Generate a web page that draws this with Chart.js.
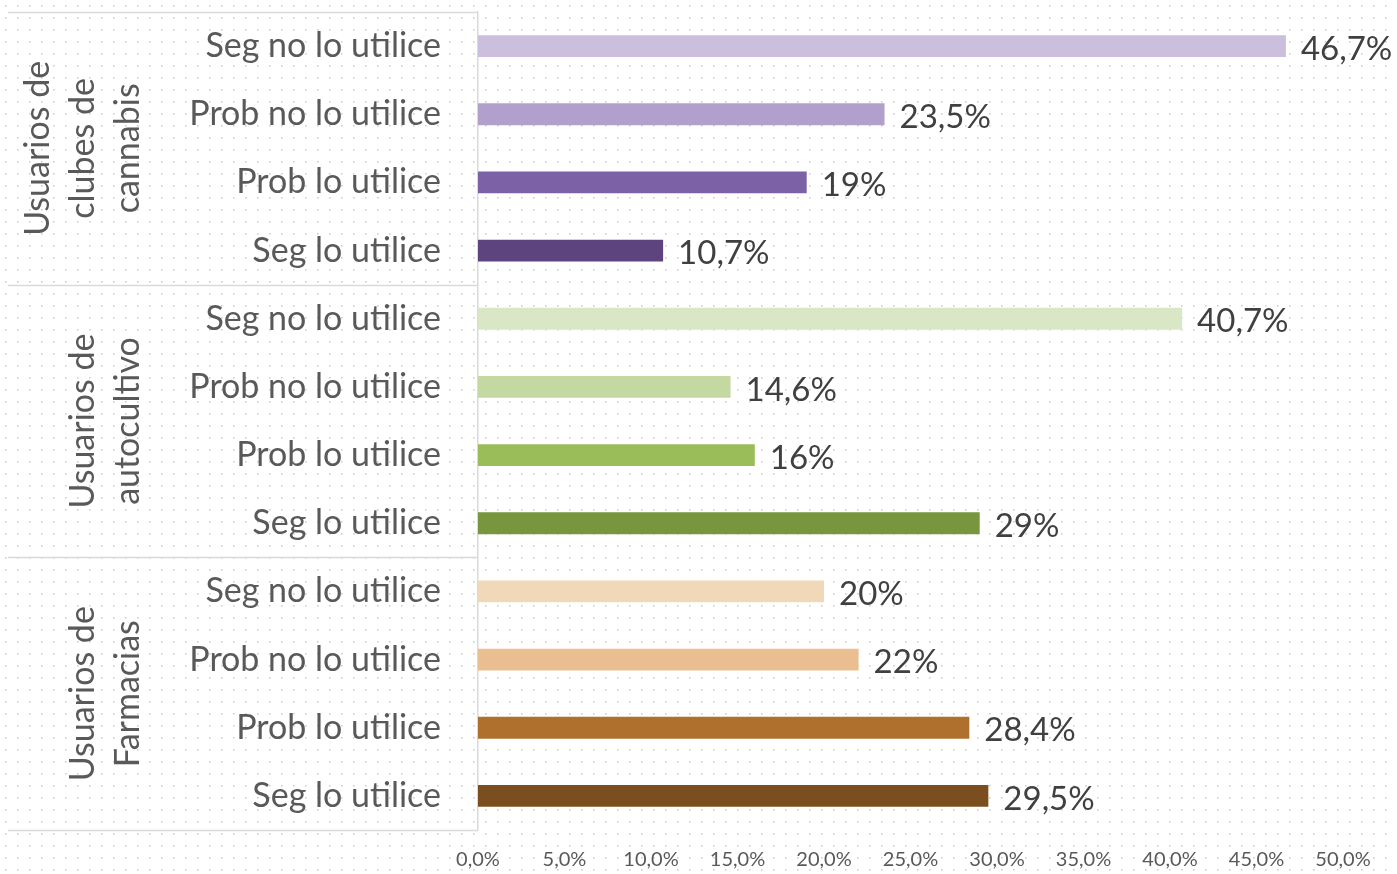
<!DOCTYPE html>
<html>
<head>
<meta charset="utf-8">
<script src="https://cdn.jsdelivr.net/npm/chart.js@4.4.1/dist/chart.umd.min.js"></script>
<style>
    html, body { margin: 0; padding: 0; background: #ffffff; }
    #wrap { width: 1397px; height: 874px; }
</style>
</head>
<body>
<div id="wrap"><canvas id="chart"></canvas></div>
<script>
// categorías (de arriba a abajo)
const categories = [
    'Seg no lo utilice', 'Prob no lo utilice', 'Prob lo utilice', 'Seg lo utilice',
    'Seg no lo utilice', 'Prob no lo utilice', 'Prob lo utilice', 'Seg lo utilice',
    'Seg no lo utilice', 'Prob no lo utilice', 'Prob lo utilice', 'Seg lo utilice'
];
const values = [46.7, 23.5, 19, 10.7, 40.7, 14.6, 16, 29, 20, 22, 28.4, 29.5];
const groups = [
    ['Usuarios de', 'clubes de', 'cannabis'],
    ['Usuarios de', 'autocultivo'],
    ['Usuarios de', 'Farmacias']
];
const groupSize = 4;
const barColors = [
    '#cbbfdd', '#b2a0cc', '#7d61a6', '#5d447f',
    '#d9e7c6', '#c4d9a1', '#9bbd59', '#77963d',
    '#f0d8b9', '#e9bf91', '#b0702d', '#7a4e1f'
];
const xTicksMax = 50;
const xStep = 5;

const fontFamily = 'Lato, "Open Sans", sans-serif';
const textColor = '#595959';

function fmtValue(v) {
    return String(v).replace('.', ',') + '%';
}

// fondo punteado
const dotPattern = (() => {
    const c = document.createElement('canvas');
    c.width = 12; c.height = 12;
    const g = c.getContext('2d');
    g.fillStyle = '#cfcfcf';
    g.fillRect(5, 5, 1.6, 1.6);
    return c;
})();

const backgroundPlugin = {
    id: 'dotBackground',
    beforeDraw(chart) {
        const ctx = chart.ctx;
        ctx.save();
        ctx.fillStyle = '#ffffff';
        ctx.fillRect(0, 0, chart.width, chart.height);
        ctx.fillStyle = ctx.createPattern(dotPattern, 'repeat');
        ctx.fillRect(0, 0, chart.width, chart.height);
        ctx.restore();
    }
};

const groupPlugin = {
    id: 'groupLabels',
    afterDraw(chart) {
        const ctx = chart.ctx;
        const y = chart.scales.y;
        const left = 8;
        const right = chart.chartArea.left;
        const half = (y.getPixelForValue(1) - y.getPixelForValue(0)) / 2;
        ctx.save();
        ctx.strokeStyle = '#d9d9d9';
        ctx.lineWidth = 1.5;
        // separadores horizontales
        for (let g = 0; g <= groups.length; g++) {
            const idx = g * groupSize;
            const py = idx < categories.length
                ? y.getPixelForValue(idx) - half
                : y.getPixelForValue(categories.length - 1) + half;
            ctx.beginPath();
            ctx.moveTo(left, Math.round(py) + 0.5);
            ctx.lineTo(right, Math.round(py) + 0.5);
            ctx.stroke();
        }
        // etiquetas de grupo rotadas
        ctx.fillStyle = textColor;
        ctx.font = '34px ' + fontFamily;
        ctx.textAlign = 'center';
        ctx.textBaseline = 'middle';
        groups.forEach((lines, g) => {
            const top = y.getPixelForValue(g * groupSize) - half;
            const bottom = y.getPixelForValue(g * groupSize + groupSize - 1) + half;
            const cy = (top + bottom) / 2;
            lines.forEach((txt, i) => {
                const cx = 128 - (lines.length - 1 - i) * 45;
                ctx.save();
                ctx.translate(cx, cy);
                ctx.rotate(-Math.PI / 2);
                ctx.fillText(txt, 0, 0);
                ctx.restore();
            });
        });
        ctx.restore();
    }
};

const valueLabelPlugin = {
    id: 'valueLabels',
    afterDatasetsDraw(chart) {
        const ctx = chart.ctx;
        const meta = chart.getDatasetMeta(0);
        ctx.save();
        ctx.fillStyle = '#404040';
        ctx.font = '33px ' + fontFamily;
        ctx.textAlign = 'left';
        ctx.textBaseline = 'middle';
        meta.data.forEach((bar, i) => {
            ctx.fillText(fmtValue(values[i]), bar.x + 15, bar.y + 3);
        });
        ctx.restore();
    }
};

const ctx = document.getElementById('chart').getContext('2d');
new Chart(ctx, {
    type: 'bar',
    data: {
        labels: categories,
        datasets: [{
            data: values,
            backgroundColor: barColors,
            borderWidth: 0,
            categoryPercentage: 1,
            barPercentage: 0.32
        }]
    },
    options: {
        indexAxis: 'y',
        responsive: true,
        maintainAspectRatio: false,
        animation: false,
        layout: { padding: { top: 12, right: 54, left: 0, bottom: 0 } },
        plugins: {
            legend: { display: false },
            tooltip: { enabled: false }
        },
        scales: {
            x: {
                min: 0,
                max: xTicksMax,
                grid: { display: false, drawTicks: false },
                border: { display: false },
                ticks: {
                    stepSize: xStep,
                    padding: 18,
                    color: textColor,
                    font: { family: fontFamily, size: 20 },
                    callback: v => v.toFixed(1).replace('.', ',') + '%'
                },
                afterFit(scale) {
                    scale.height = 44;
                    scale.paddingLeft = 0;
                    scale.paddingRight = 0;
                }
            },
            y: {
                grid: { display: false, drawTicks: false },
                border: { display: true, color: '#d9d9d9', width: 1.5 },
                ticks: {
                    padding: 37,
                    color: textColor,
                    font: { family: fontFamily, size: 34 }
                },
                afterFit(scale) {
                    scale.width = 478;
                    scale.paddingTop = 0;
                    scale.paddingBottom = 0;
                }
            }
        }
    },
    plugins: [backgroundPlugin, groupPlugin, valueLabelPlugin]
});
</script>
</body>
</html>
